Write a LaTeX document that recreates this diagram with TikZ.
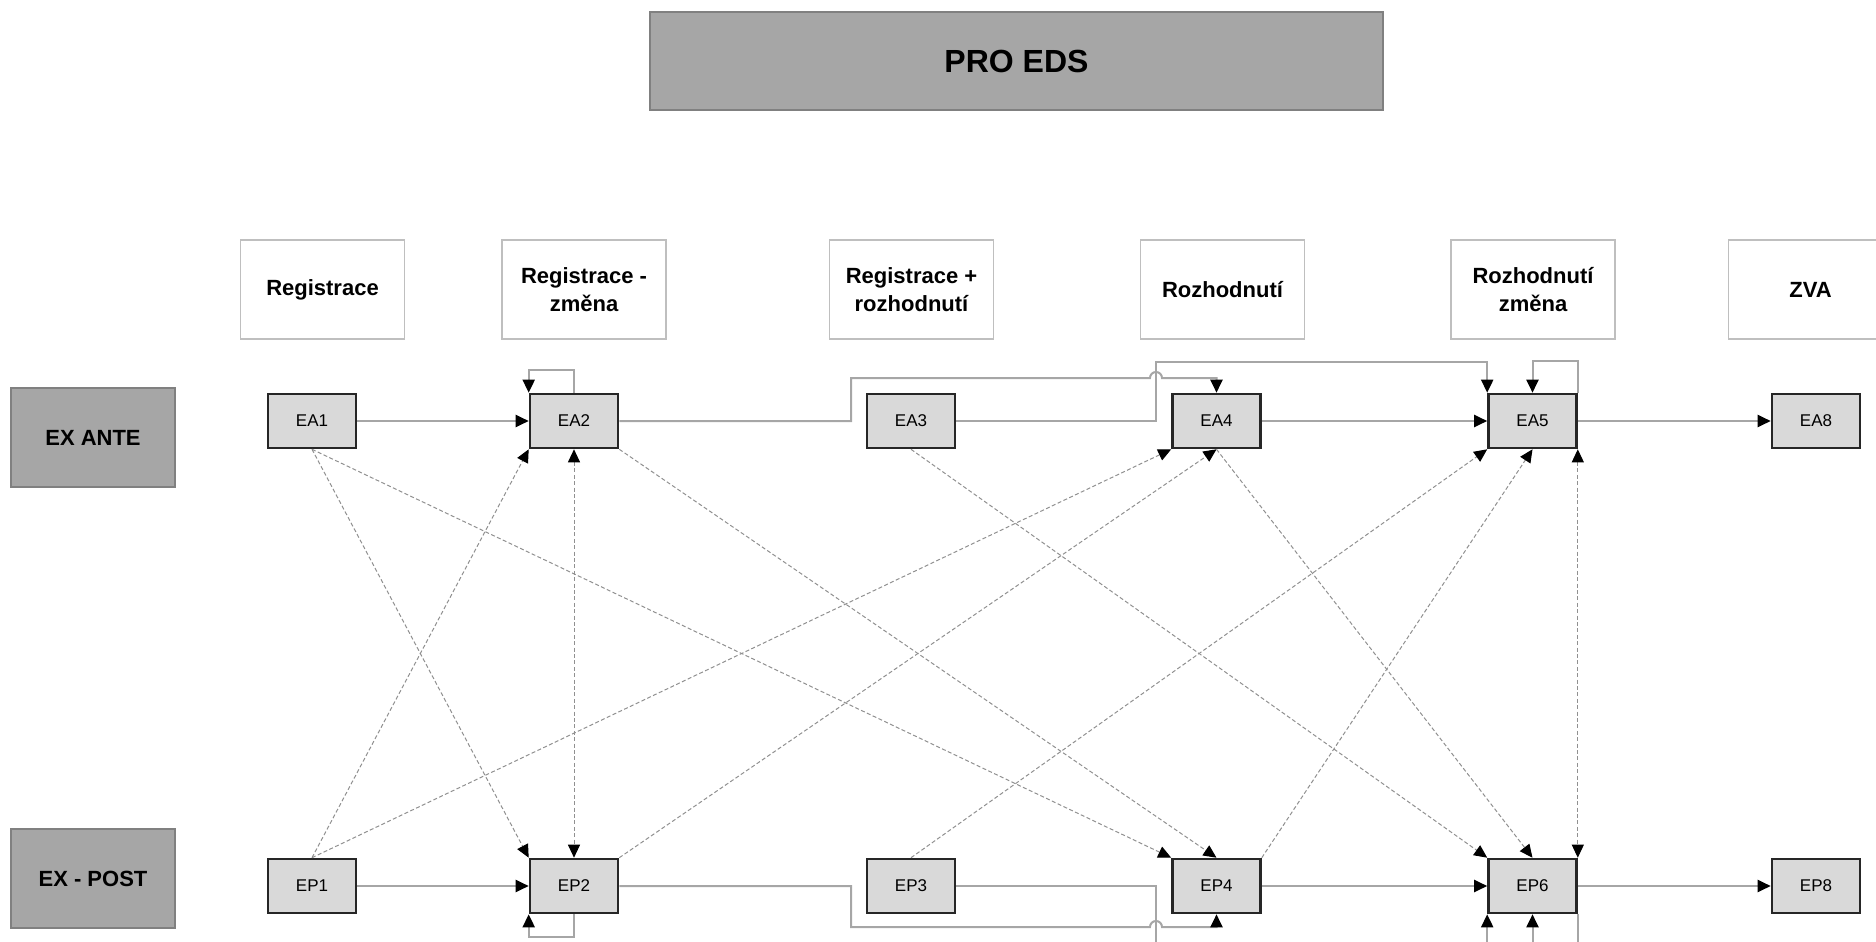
\documentclass[tikz,border=0pt]{standalone}
\usepackage{fontspec}
\setmainfont{Liberation Sans}
\usetikzlibrary{arrows.meta}
\definecolor{darkfill}{HTML}{A6A6A6}
\definecolor{darkline}{HTML}{808080}
\definecolor{hdrline}{HTML}{BFBFBF}
\definecolor{boxfill}{HTML}{D9D9D9}
\definecolor{boxline}{HTML}{262626}
\definecolor{flowgray}{HTML}{A6A6A6}
\definecolor{dashgray}{HTML}{909090}
\begin{document}
\begin{tikzpicture}[x=0.5pt,y=-0.5pt,
  >={Triangle[color=black,fill=black,length=6.5pt,width=6pt]},
  titlebox/.style={draw=darkline,fill=darkfill,line width=0.6pt,minimum width=366.5pt,minimum height=49pt,inner sep=0pt,font=\fontsize{16}{19}\selectfont\bfseries},
  rowlabel/.style={draw=darkline,fill=darkfill,line width=0.6pt,minimum width=82pt,minimum height=49.5pt,inner sep=0pt,font=\fontsize{11}{14}\selectfont\bfseries},
  hdr/.style={draw=hdrline,fill=white,line width=0.6pt,minimum width=82pt,minimum height=49.5pt,inner sep=0pt,align=center,font=\fontsize{11}{14}\selectfont\bfseries},
  stage/.style={draw=boxline,fill=boxfill,line width=1.3pt,minimum width=44pt,minimum height=27pt,inner sep=0pt,font=\fontsize{8.5}{10}\selectfont},
  flow/.style={draw=flowgray,line width=1pt,->},
  link/.style={draw=dashgray,line width=0.5pt,dash pattern=on 2pt off 1.2pt,->},
  twoway/.style={draw=dashgray,line width=0.5pt,dash pattern=on 2pt off 1.2pt,<->}
]
\useasboundingbox (0,0) rectangle (1876,942);
\clip (0,0) rectangle (1876,942);

% title and headers
\node[titlebox] (title) at (1016.5,61) {PRO EDS};
\node[hdr] (h1) at (322.5,289.5) {Registrace};
\node[hdr] (h2) at (584,289.5) {Registrace -\\změna};
\node[hdr] (h3) at (911.5,289.5) {Registrace +\\rozhodnutí};
\node[hdr] (h4) at (1222.5,289.5) {Rozhodnutí};
\node[hdr] (h5) at (1533,289.5) {Rozhodnutí\\změna};
\node[hdr] (h6) at (1810.5,289.5) {ZVA};

% row labels
\node[rowlabel] (ante) at (93,437.5) {EX ANTE};
\node[rowlabel] (post) at (93,878.5) {EX - POST};

% stage boxes
\node[stage] (EA1) at (312,421) {EA1};
\node[stage] (EA2) at (574,421) {EA2};
\node[stage] (EA3) at (911,421) {EA3};
\node[stage] (EA4) at (1216.5,421) {EA4};
\node[stage] (EA5) at (1532.5,421) {EA5};
\node[stage] (EA8) at (1816,421) {EA8};
\node[stage] (EP1) at (312,886) {EP1};
\node[stage] (EP2) at (574,886) {EP2};
\node[stage] (EP3) at (911,886) {EP3};
\node[stage] (EP4) at (1216.5,886) {EP4};
\node[stage] (EP6) at (1532.5,886) {EP6};
\node[stage] (EP8) at (1816,886) {EP8};

% dashed cross links
\draw[link] (EA1.south) -- (EP2.north west);
\draw[link] (EA1.south) -- (EP4.north west);
\draw[link] (EP1.north) -- (EA2.south west);
\draw[link] (EP1.north) -- (EA4.south west);
\draw[twoway] (EA2.south) -- (EP2.north);
\draw[link] (EA2.south east) -- (EP4.north);
\draw[link] (EP2.north east) -- (EA4.south);
\draw[link] (EA3.south) -- (EP6.north west);
\draw[link] (EP3.north) -- (EA5.south west);
\draw[link] (EA4.south) -- (EP6.north);
\draw[link] (EP4.north east) -- (EA5.south);
\draw[twoway] (EA5.south east) -- (EP6.north east);

% solid flows, ex ante
\draw[flow] (EA1) -- (EA2);
\draw[flow] (EA2.north) -- ++(0,-23) -| (EA2.north west);
\draw[flow] (EA3.east) -- (1156,421) -- (1156,362) -| (EA5.north west);
\draw[flow] (EA2.east) -- (851,421) -- (851,378) -- (1150,378)
  arc[start angle=180,end angle=360,radius=6] -- (1216.5,378) -- (EA4.north);
\draw[flow] (EA4) -- (EA5);
\draw[flow] (EA5.north east) -- ++(0,-32) -| (EA5.north);
\draw[flow] (EA5) -- (EA8);

% solid flows, ex post
\draw[flow] (EP1) -- (EP2);
\draw[flow] (EP2.south) -- ++(0,23) -| (EP2.south west);
\draw[flow] (EP3.east) -- (1156,886) -- (1156,965) -| (EP6.south west);
\draw[flow] (EP2.east) -- (851,886) -- (851,927) -- (1150,927)
  arc[start angle=180,end angle=360,radius=6] -- (1216.5,927) -- (EP4.south);
\draw[flow] (EP4) -- (EP6);
\draw[flow] (EP6.south east) -- ++(0,70) -| (EP6.south);
\draw[flow] (EP6) -- (EP8);
\end{tikzpicture}
\end{document}
